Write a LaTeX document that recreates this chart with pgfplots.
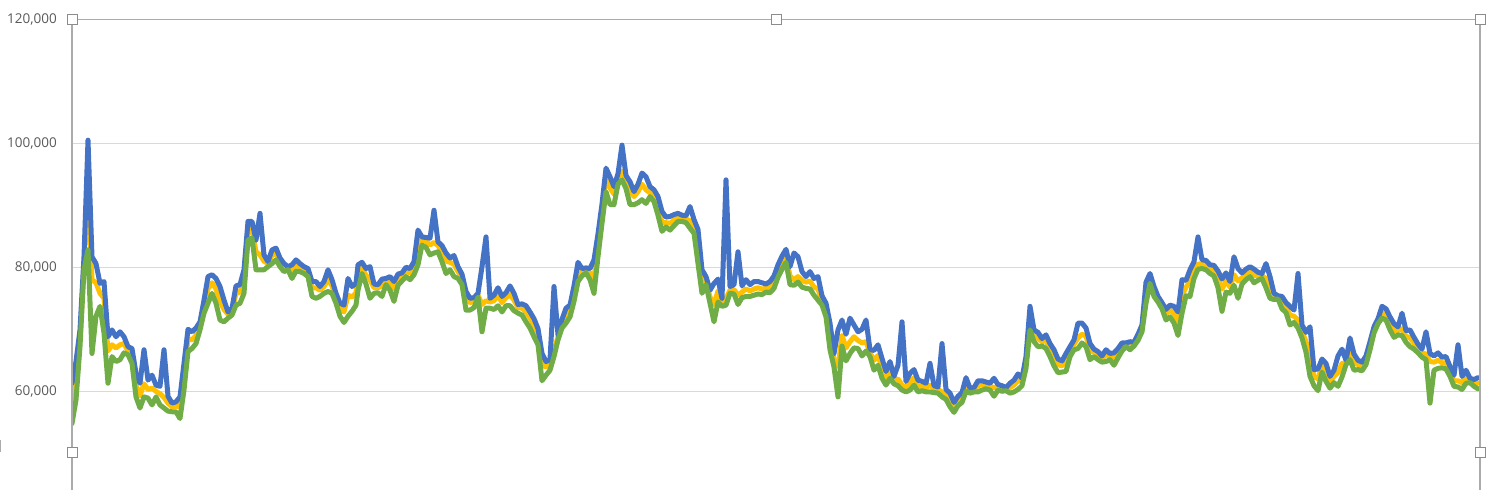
\documentclass[border=0pt]{standalone}
\usepackage{fontspec}
\setmainfont{Open Sans}
\usepackage{pgfplots}
\usepackage{pgfplotstable}
\pgfplotsset{compat=1.18}
\definecolor{sblue}{HTML}{4472C4}
\definecolor{sgold}{HTML}{FFC000}
\definecolor{sgreen}{HTML}{70AD47}
\definecolor{gridc}{HTML}{D9D9D9}
\definecolor{framec}{HTML}{ABABAB}
\definecolor{handlec}{HTML}{8C8C8C}
\definecolor{txt}{HTML}{595959}

\pgfplotstableread{
x b o g
0 61300 58000 54800
4 64800 62000 58600
8 69900 68500 67200
12 81700 80500 79600
16 100500 93000 82800
20 81700 78000 66100
24 80600 77500 72100
28 77400 75800 73700
32 77700 75000 69400
36 68800 66500 61300
40 69900 67500 65600
44 68800 67000 64800
48 69600 67500 65100
52 68800 67700 66200
56 67200 66500 65900
60 66900 65800 64500
64 62900 61000 59100
68 61300 59300 57300
72 66700 61200 59100
76 61800 60300 58900
80 62600 60500 57800
84 61000 60000 59100
88 60800 59600 57800
92 66700 59000 57300
96 59200 58100 56800
100 58100 57500 56700
104 58300 57600 56700
108 59100 57500 55600
112 64500 62500 60200
116 70000 68500 66400
120 69600 68300 66900
124 70200 69000 67700
128 71200 70600 69900
132 74700 73800 72600
136 78500 76500 74200
140 78800 77500 75800
144 78200 76500 74200
148 76900 74500 71500
152 74700 73200 71200
156 72800 72400 71800
160 73400 72900 72300
164 77000 75800 73900
168 77200 76000 74200
172 79600 78000 75800
176 87400 86200 84400
180 87400 86200 84700
184 84400 82500 79600
188 88700 82000 79600
192 82000 81000 79600
196 80900 80600 80100
200 82800 81900 80600
204 83100 82300 81200
208 81500 80900 80100
212 80600 80100 79300
216 80100 79900 79600
220 80400 79500 78200
224 81200 80400 79400
228 80600 80000 79300
232 80100 79600 79000
236 79800 79200 78500
240 77700 76700 75300
244 77700 76700 75000
248 76900 76300 75300
252 77700 76900 75800
256 79600 78000 76100
260 78000 77000 75800
264 75800 75100 74200
268 74200 73300 72100
272 73900 72800 71100
276 78200 75500 72100
280 76900 75200 72900
284 77400 75900 73900
286 80400 78800 76300
290 80800 80000 79000
294 79800 78700 77300
298 80100 78000 75000
302 77300 76700 75800
306 77200 76700 75900
310 78100 77000 75300
314 78200 77800 77200
318 78500 77700 76300
322 77700 76500 74500
326 78900 78200 77100
330 79100 78600 77800
334 80000 79400 78500
338 79800 79100 78000
342 80900 80000 78800
346 86000 84000 80400
350 84900 84400 83600
354 84800 84200 83200
358 84700 83600 82000
362 89200 84000 82300
366 84100 83500 82500
370 83500 82500 80900
374 82300 81000 79000
378 81500 80800 79600
382 81900 80500 78500
386 80100 79300 78200
390 78900 78300 77200
394 76100 74900 73100
398 75000 74300 73100
402 75100 74500 73500
406 75800 75500 75200
410 80100 74000 69600
414 84900 74600 73400
418 75000 74400 73400
422 75500 74600 73200
426 76700 75500 73800
430 75300 74300 72800
434 75900 75100 73800
438 77000 75600 73800
442 75800 74700 73000
446 74000 73500 72600
450 74100 73400 72300
454 73800 72800 71200
458 72800 71800 70200
462 71700 70500 68800
466 70100 69000 67500
470 66100 64300 61700
474 64800 63900 62600
478 65100 64400 63400
482 76900 66500 65600
486 69100 68800 68300
490 71600 71000 70200
494 73400 72500 71000
498 73900 73100 72000
502 77000 76000 74500
506 80800 79500 77700
510 79800 79300 78600
514 79900 79600 79100
518 79800 79100 78000
522 81200 78000 75800
526 85400 83900 81700
530 90200 88900 87100
534 96000 94500 92200
538 94600 92800 90100
542 93000 91800 90100
546 95100 94400 93400
550 99700 95500 94100
554 94800 93800 92700
558 93800 92300 90100
562 92200 91400 90100
566 93400 92200 90400
570 95200 93400 90900
574 94600 92500 90300
578 93000 92000 91400
582 92500 91500 90600
586 91400 90000 88400
590 89000 87200 85800
594 88100 87200 86500
598 88200 87100 86000
602 88500 87600 86700
606 88700 88000 87400
610 88400 87900 87400
614 88300 87800 87200
618 89800 87500 86300
622 87700 86600 85500
626 86100 83000 80600
630 79600 77500 75800
634 78500 77800 77200
638 76300 75200 74200
642 77400 74000 71200
646 78100 76200 74400
650 75000 74300 73700
654 94100 75000 73900
658 76900 76300 75800
662 77200 76400 75700
666 82500 75500 74000
670 77000 76000 75100
674 78000 76500 75300
678 77200 76200 75300
682 77700 76500 75500
686 77700 76700 75700
690 77500 76500 75600
694 77300 76600 76000
698 77700 76800 75900
702 78600 77600 76600
706 80400 79400 78400
710 81800 80700 79700
714 82900 81800 80800
718 80100 78600 77200
722 82300 78000 77100
726 81700 78500 77600
730 79300 77900 76800
734 78500 77600 76600
738 79300 77800 76500
742 78200 76800 75500
746 78500 76500 74700
750 75400 74600 73900
754 74200 73000 72000
758 71000 68800 66700
762 66100 65000 63900
766 69900 64000 59100
770 71500 69000 67300
774 69200 67000 64900
778 71800 68000 66100
782 70700 68800 67000
786 69600 68200 66900
790 70000 67800 65700
794 71500 68000 66500
798 66700 66200 65600
802 66600 65000 63400
806 67500 65800 64200
810 65300 63700 62100
814 63200 62100 61000
818 64800 63400 62100
822 62400 61800 61200
826 64200 62000 60900
830 71200 61000 60200
834 61600 60700 59900
838 62900 61500 60200
842 63500 62200 61000
846 61800 60800 59900
850 61600 60800 60100
854 61300 60600 59900
858 64500 61000 59900
862 60900 60400 59800
866 60700 60300 59700
870 67700 59900 59100
874 60300 59600 58700
878 59700 58800 57500
882 58200 57600 56600
886 59200 58600 57700
890 59800 59100 58200
894 62200 61300 60000
898 60500 60100 59700
902 60600 60300 59900
906 61700 60900 59900
910 61700 61100 60200
914 61500 61000 60400
918 61300 60800 60200
922 62100 60600 59200
926 61100 60700 60200
930 60900 60500 60000
934 60600 60400 60100
938 61300 60600 59700
942 61800 61000 59900
946 62800 61700 60300
950 62100 61600 60900
954 65600 64800 63700
958 73700 72000 69900
962 69900 69000 68000
966 69500 68500 67200
970 68500 68000 67300
974 69100 68200 66900
978 67700 66800 65600
982 66700 65600 64100
986 65200 64300 63000
990 64900 64100 63100
994 66100 64800 63200
998 67200 66500 65600
1002 68300 67600 66700
1006 71000 68600 66900
1010 71000 69200 67800
1014 70200 68900 67200
1018 67700 66600 65100
1022 66800 66300 65600
1026 66400 65800 65100
1030 65700 65300 64700
1034 66700 65900 64800
1038 66100 65700 65100
1042 66200 65300 64200
1046 66900 66200 65400
1050 67800 67200 66500
1054 67800 67500 67200
1058 68000 67400 66700
1062 67900 67600 67300
1066 69200 68700 68200
1070 70700 70200 69600
1074 77600 76200 74200
1078 79000 78300 77400
1082 76900 76200 75300
1086 75300 74900 74400
1090 74300 73900 73300
1094 73200 72500 71500
1098 73900 73100 72000
1102 73700 72500 71000
1106 72800 71200 69000
1110 78000 75500 72600
1114 77900 76800 75400
1118 79600 77700 75300
1122 80900 79700 78200
1126 84900 80500 79700
1130 81200 80600 79800
1134 81100 80400 79600
1138 80400 79800 79000
1142 80300 79500 78600
1146 79400 78000 76700
1150 78100 76500 72900
1154 79100 77800 76000
1158 77700 76800 75800
1162 81700 78800 77100
1166 79800 77800 75000
1170 79100 78300 77300
1174 79700 79000 78000
1178 80100 79400 78500
1182 79700 78700 77500
1186 79200 78600 77900
1190 79000 78600 78200
1194 80600 78200 76700
1198 78500 77000 75000
1202 75800 75300 74800
1206 75400 75100 74900
1210 75300 74400 73300
1214 74300 73600 72700
1218 73700 72300 70700
1222 73100 72100 71100
1226 79000 71500 70200
1230 70700 69700 68600
1234 69500 68000 66300
1238 70400 66000 62400
1242 63500 62300 60900
1246 63600 62000 60100
1250 65200 64200 63100
1254 64500 63100 61600
1258 62400 61500 60500
1262 63400 62400 61400
1266 65700 63000 60800
1270 66800 64500 62300
1274 65000 64600 64300
1278 68600 66500 65100
1282 66000 64800 63400
1286 65000 64300 63500
1290 64700 64000 63300
1294 65700 65000 64300
1298 68000 67400 66700
1302 70400 69900 69400
1306 71700 71300 70900
1310 73700 72600 71800
1314 73300 72400 71500
1318 72000 71000 69900
1322 70900 69800 68700
1326 70400 69800 69100
1330 72600 70100 69000
1334 69800 68900 67900
1338 69900 68600 67200
1342 68700 67800 66800
1346 67600 66900 66200
1350 66800 66200 65500
1354 69600 66000 65100
1358 66100 64800 58100
1362 65700 64700 63400
1366 66200 65000 63700
1370 65500 64600 63800
1374 65600 64600 63600
1378 64000 63200 62400
1382 62600 61700 60800
1386 67500 61700 60700
1390 62400 61400 60300
1394 63400 62300 61300
1398 62100 61800 61400
1402 61900 61400 60800
1406 62200 61300 60400
}\data

\begin{document}
\begin{tikzpicture}
\useasboundingbox (0pt,0pt) rectangle (1494pt,490pt);
\begin{axis}[
  at={(72pt,0pt)}, anchor=south west,
  scale only axis, width=1408pt, height=470.7pt,
  xmin=0, xmax=1408, ymin=44080, ymax=120000,
  axis line style={draw=none},
  xtick=\empty,
  ytick={60000,80000,100000,120000},
  yticklabels={{60,000},{80,000},{100,000},{120,000}},
  ymajorgrids,
  major grid style={color=gridc, line width=1pt},
  major tick length=0pt,
  scaled y ticks=false,
  yticklabel style={text=txt, font=\fontsize{13.5}{16}\selectfont, anchor=east, inner sep=0pt, xshift=-15pt},
  every axis plot/.append style={line join=round, line cap=round, mark=none},
]
\addplot[sgold, line width=5pt] table[x=x, y=o]{\data};
\addplot[sblue, line width=5pt] table[x=x, y=b]{\data};
\addplot[sgreen, line width=5pt] table[x=x, y=g]{\data};
\end{axis}
\draw[framec, line width=1.3pt] (72pt,0pt) -- (72pt,470.7pt) -- (1480pt,470.7pt) -- (1480pt,0pt);
\foreach \px/\py in {72/470.7, 776/470.7, 1480/470.7, 72/37, 1480/37}
  \draw[fill=white, draw=handlec, line width=1pt] (\px pt-5pt,\py pt-5pt) rectangle ++(10pt,10pt);
\fill[framec] (0pt,38pt) rectangle (1.2pt,50pt);
\end{tikzpicture}
\end{document}
